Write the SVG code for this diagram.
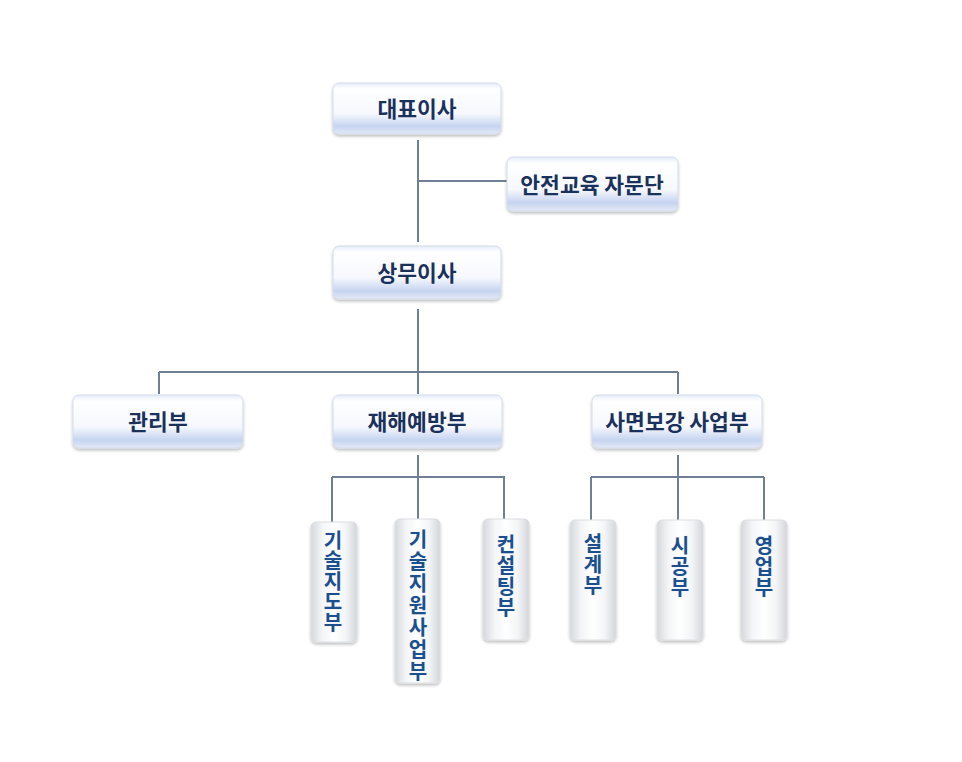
<svg xmlns="http://www.w3.org/2000/svg" width="962" height="762" viewBox="0 0 962 762">
<defs>
<linearGradient id="hg" x1="0" y1="0" x2="0" y2="1">
<stop offset="0" stop-color="#e6ecf8"/>
<stop offset="0.12" stop-color="#ffffff"/>
<stop offset="0.6" stop-color="#f6f8fd"/>
<stop offset="0.85" stop-color="#c6d4f1"/>
<stop offset="1" stop-color="#e4eaf7"/>
</linearGradient>
<linearGradient id="vg" x1="0" y1="0" x2="1" y2="0">
<stop offset="0" stop-color="#d6d8dc"/>
<stop offset="0.25" stop-color="#f4f5f7"/>
<stop offset="0.5" stop-color="#ffffff"/>
<stop offset="0.75" stop-color="#f4f5f7"/>
<stop offset="1" stop-color="#d4d6da"/>
</linearGradient>
<filter id="sh" x="-10%" y="-10%" width="120%" height="130%">
<feGaussianBlur in="SourceAlpha" stdDeviation="1.5"/>
<feOffset dy="1.5"/>
<feComponentTransfer><feFuncA type="linear" slope="0.25"/></feComponentTransfer>
<feMerge><feMergeNode/><feMergeNode in="SourceGraphic"/></feMerge>
</filter>
</defs>
<style>
.hb{fill:url(#hg);stroke:#d3dbea;stroke-width:1;filter:url(#sh)}
.vb{fill:url(#vg);stroke:#dcdee2;stroke-width:1;filter:url(#sh)}
.ht{font-family:"Noto Sans CJK KR","Noto Sans",sans-serif;font-weight:bold;font-size:21.5px;fill:#1a315c;text-anchor:middle;dominant-baseline:central}
.vt{font-family:"Noto Sans CJK KR","Noto Sans",sans-serif;font-weight:bold;font-size:20px;fill:#1b4f8e;writing-mode:vertical-rl;text-orientation:upright;text-anchor:start;stroke:#dfe9f7;stroke-width:0.5;paint-order:stroke}
.ln{stroke:#6f8096;stroke-width:2;fill:none}
</style>
<rect width="962" height="762" fill="#ffffff"/>
<g id="connectors">
<path class="ln" d="M418 140 V242 M418 181 H507"/>
<path class="ln" d="M418 309 V372 M159 372 H678 M159 372 V394 M418 372 V394 M678 372 V394"/>
<path class="ln" d="M418 455 V477 M332 477 H505 M332 477 V522 M418 477 V519 M504 477 V519"/>
<path class="ln" d="M678 455 V477 M591 477 H764 M591 477 V520 M678 477 V520 M764 477 V520"/>
</g>
<g id="n1"><rect class="hb" x="333" y="83" width="168" height="51" rx="6"/><text class="ht" x="417" y="107">대표이사</text></g>
<g id="n2"><rect class="hb" x="507" y="157" width="171" height="54" rx="6"/><text class="ht" x="592" y="183">안전교육 자문단</text></g>
<g id="n3"><rect class="hb" x="333" y="246" width="168" height="53" rx="6"/><text class="ht" x="417" y="271">상무이사</text></g>
<g id="n4"><rect class="hb" x="73" y="395" width="170" height="53" rx="6"/><text class="ht" x="158" y="420">관리부</text></g>
<g id="n5"><rect class="hb" x="333" y="395" width="169" height="53" rx="6"/><text class="ht" x="417" y="420">재해예방부</text></g>
<g id="n6"><rect class="hb" x="592" y="395" width="170" height="53" rx="6"/><text class="ht" x="677" y="420">사면보강 사업부</text></g>
<g id="n7"><rect class="vb" x="311" y="522" width="46" height="120" rx="5"/>
<text class="vt" x="333" y="530" letter-spacing="0.5">기술지도부</text></g>
<g id="n8"><rect class="vb" x="395" y="519" width="45" height="164" rx="5"/>
<text class="vt" x="418" y="529" letter-spacing="2">기술지원사업부</text></g>
<g id="n9"><rect class="vb" x="483" y="519" width="46" height="121" rx="5"/>
<text class="vt" x="506" y="534" letter-spacing="1">컨설팅부</text></g>
<g id="n10"><rect class="vb" x="570" y="520" width="46" height="120" rx="5"/>
<text class="vt" x="593" y="533" letter-spacing="1">설계부</text></g>
<g id="n11"><rect class="vb" x="657" y="520" width="46" height="120" rx="5"/>
<text class="vt" x="680" y="535" letter-spacing="1">시공부</text></g>
<g id="n12"><rect class="vb" x="741" y="520" width="46" height="120" rx="5"/>
<text class="vt" x="764" y="535" letter-spacing="1">영업부</text></g>
</svg>
